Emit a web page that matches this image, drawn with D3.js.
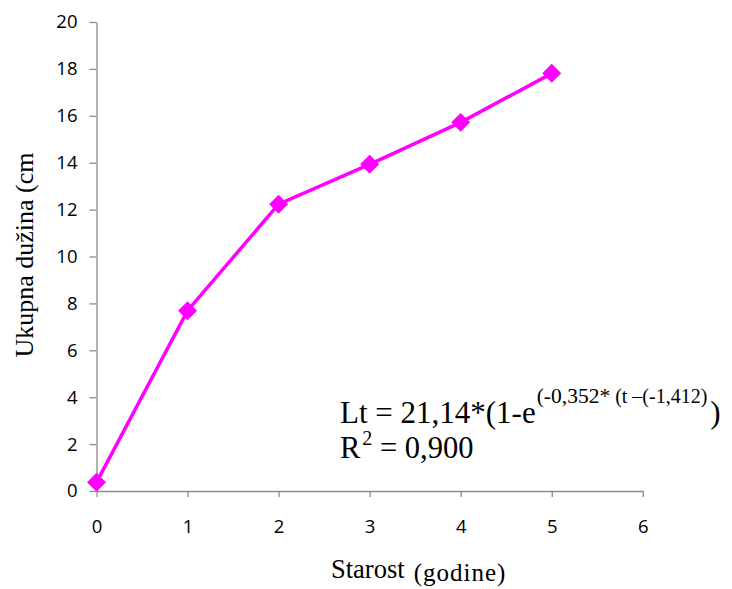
<!DOCTYPE html>
<html><head><meta charset="utf-8">
<script src="https://cdn.jsdelivr.net/npm/d3@7"></script>
<style>body{margin:0;background:#fff}svg{display:block}</style>
</head><body>
<script>
const ages = [0, 1, 2, 3, 4, 5];
const lengths = [0.37, 7.69, 12.23, 13.93, 15.72, 17.81];
const xTicks = [0, 1, 2, 3, 4, 5, 6];
const yTicks = [0, 2, 4, 6, 8, 10, 12, 14, 16, 18, 20];

const W = 732, H = 589;
const svg = d3.select("body").append("svg").attr("width", W).attr("height", H);
const x = d3.scaleLinear().domain([0, 6]).range([96.5, 642.8]);
const y = d3.scaleLinear().domain([0, 20]).range([491, 22]);

const axisColor = "#8c8c8c";
const tickFont = "'Open Sans', sans-serif";
const serif = "'Liberation Serif', 'Times New Roman', serif";

const gy = svg.append("g").attr("transform", `translate(${x(0)},0)`)
  .call(d3.axisLeft(y).tickValues(yTicks).tickFormat(d3.format("d")).tickSize(7).tickPadding(12).tickSizeOuter(0));
const gx = svg.append("g").attr("transform", `translate(0,${y(0)})`)
  .call(d3.axisBottom(x).tickValues(xTicks).tickFormat(d3.format("d")).tickSize(6).tickPadding(23).tickSizeOuter(0));
[gx, gy].forEach(g => {
  g.select(".domain").attr("stroke", axisColor).attr("stroke-width", 1.3);
  g.selectAll(".tick line").attr("stroke", axisColor).attr("stroke-width", 1.3);
  g.selectAll(".tick text").attr("font-family", tickFont).attr("font-size", 18.5).attr("fill", "#000");
});

const line = d3.line().x((d, i) => x(ages[i])).y(d => y(d));
svg.append("path").datum(lengths).attr("d", line)
  .attr("fill", "none").attr("stroke", "#ff00ff").attr("stroke-width", 3.5);
svg.append("g").selectAll("path").data(lengths).join("path")
  .attr("d", d3.symbol().type(d3.symbolSquare).size(180))
  .attr("transform", (d, i) => `translate(${x(ages[i])},${y(d)}) rotate(45)`)
  .attr("fill", "#ff00ff");

// Axis titles
svg.append("text")
  .attr("transform", "translate(33,255) rotate(-90)")
  .attr("text-anchor", "middle")
  .attr("font-family", serif)
  .attr("font-size", 26)
  .text("Ukupna dužina (cm");

const xt = svg.append("text")
  .attr("x", 331).attr("y", 578)
  .attr("font-family", serif)
  .attr("font-size", 26.5);
xt.append("tspan").text("Starost");
xt.append("tspan").attr("font-size", 25).attr("letter-spacing", 1).attr("dx", 9).attr("dy", 3).text("(godine)");

// Equation
const eq = svg.append("text").attr("x", 340).attr("y", 423)
  .attr("font-family", serif).attr("font-size", 31);
eq.append("tspan").text("Lt = 21,14*(1-e");
eq.append("tspan").attr("font-size", 21.5).attr("dy", -20).attr("dx", 1).text("(-0,352*");
eq.append("tspan").attr("font-size", 20).text(" (t –(-1,412)");
eq.append("tspan").attr("dy", 20).attr("dx", 3).text(")");

const r2 = svg.append("text").attr("x", 340).attr("y", 458)
  .attr("font-family", serif).attr("font-size", 30.5);
r2.append("tspan").text("R");
r2.append("tspan").attr("font-size", 20).attr("dy", -13).attr("dx", 2).text("2");
r2.append("tspan").attr("dy", 13).text(" = 0,900");
</script>
</body></html>
